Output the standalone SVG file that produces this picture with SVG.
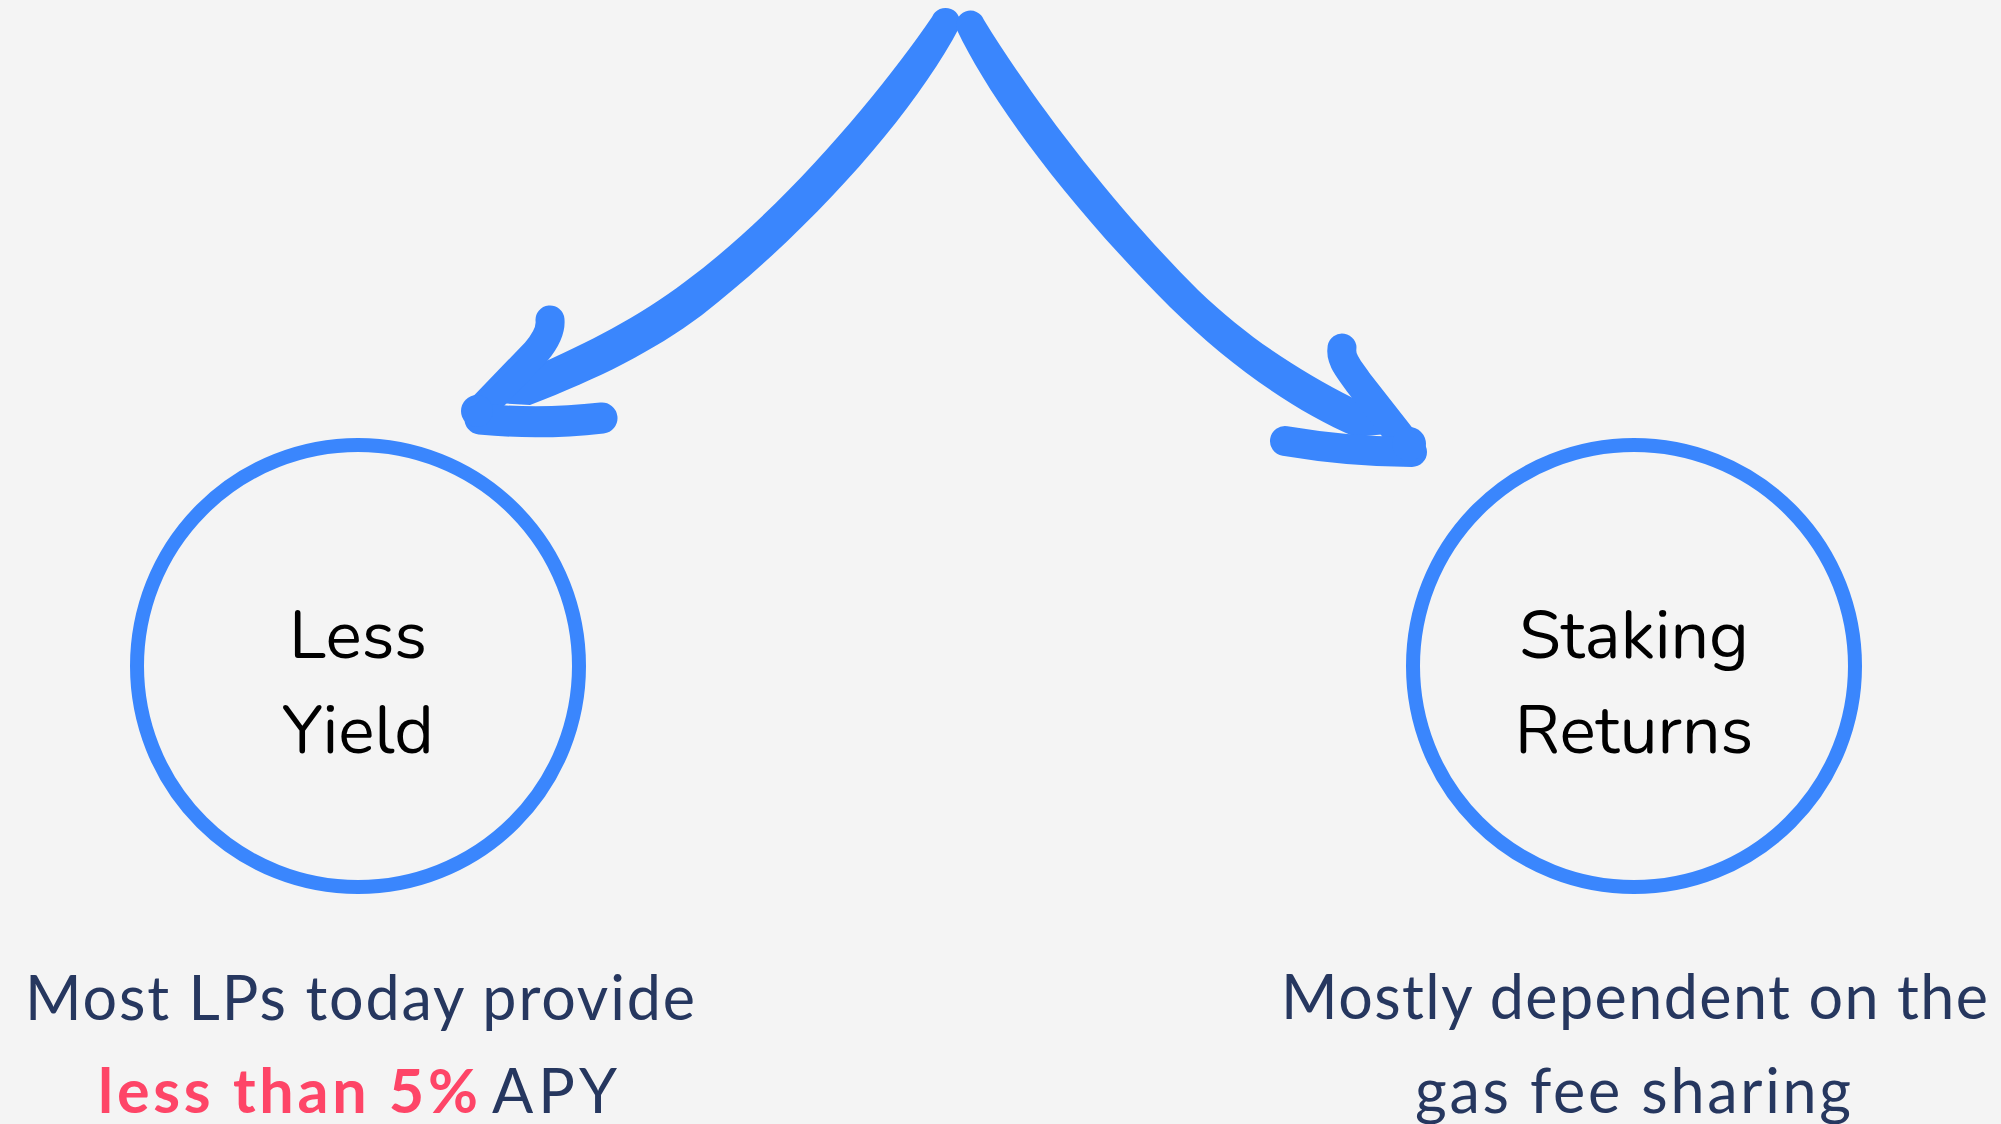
<svg xmlns="http://www.w3.org/2000/svg" width="2001" height="1124" viewBox="0 0 2001 1124">
  <style>
    .ring { fill: none; stroke: #3a86fd; stroke-width: 14; }
    .label { font-family: Nunito, Lato, "Noto Sans", sans-serif; font-size: 68px; fill: #000000; text-anchor: middle; }
    .caption { font-family: Lato, "Noto Sans", sans-serif; font-size: 61px; fill: #26375f; }
    .hot { fill: #fe4567; font-weight: bold; }
    .brush { fill: #3a86fd; }
    .barb { fill: none; stroke: #3a86fd; stroke-linecap: round; stroke-linejoin: round; }
  </style>
  <rect width="2001" height="1124" fill="#f4f4f4"/>

  <!-- hand-drawn arrows from the top split -->
  <g id="connectors">
    <g id="arrow-left">
      <path class="brush" d="M 959 28 A 14 14 0 0 0 932 17 C 886 85, 786 207, 686 281 C 636 319, 590 341, 533 367 L 482 402 L 530 405 C 600 378, 652 352, 702 315 C 817 225, 916 110, 959 28 Z"/>
      <path class="barb" stroke-width="29" d="M 550 320 C 551 330, 546 340, 536 352 L 482 408"/>
      <path class="barb" stroke-width="31" d="M 480 419 Q 540 425 602 418"/>
      <circle class="brush" cx="477" cy="411" r="16"/>
    </g>
    <g id="arrow-right">
      <path class="brush" d="M 957 30 A 14 14 0 0 1 984 20 C 1030 95, 1108 200, 1198 290 C 1250 340, 1302 372, 1353 398 L 1408 432 L 1355 437 C 1292 410, 1228 364, 1170 307 C 1068 205, 990 100, 957 30 Z"/>
      <path class="barb" stroke-width="29" d="M 1342 348 C 1340 360, 1350 370, 1358 382 L 1405 442"/>
      <path class="barb" stroke-width="30" d="M 1285 441 Q 1350 452 1412 452"/>
      <circle class="brush" cx="1409" cy="444" r="17"/>
    </g>
  </g>

  <g id="node-less-yield">
    <circle class="ring" cx="358" cy="666" r="221"/>
    <text class="label" x="358" y="658">Less</text>
    <text class="label" x="358" y="753">Yield</text>
  </g>

  <g id="node-staking-returns">
    <circle class="ring" cx="1634" cy="666" r="221"/>
    <text class="label" x="1634" y="658">Staking</text>
    <text class="label" x="1634" y="753">Returns</text>
  </g>

  <g id="caption-less-yield">
    <text class="caption" x="25" y="1020" textLength="670" lengthAdjust="spacing">Most LPs today provide</text>
    <text class="caption hot" x="98" y="1113" textLength="380" lengthAdjust="spacing">less than 5%</text>
    <text class="caption" x="492" y="1113" textLength="125" lengthAdjust="spacing">APY</text>
  </g>

  <g id="caption-staking-returns">
    <text class="caption" x="1281" y="1019" textLength="707" lengthAdjust="spacing">Mostly dependent on the</text>
    <text class="caption" x="1415" y="1113" textLength="436" lengthAdjust="spacing">gas fee sharing</text>
  </g>
</svg>
